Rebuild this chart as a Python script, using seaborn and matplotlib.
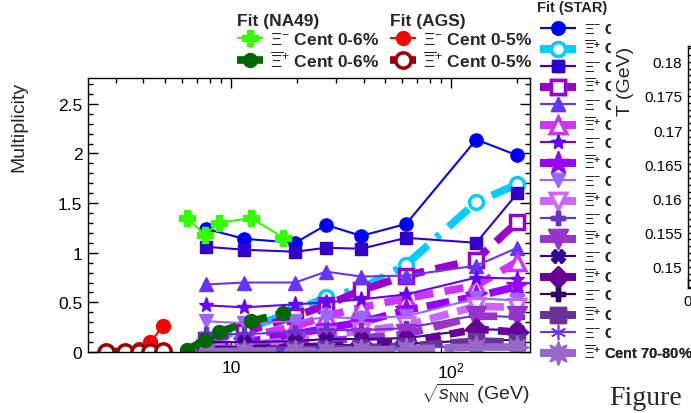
import matplotlib
matplotlib.use("Agg")
import matplotlib.pyplot as plt
import seaborn as sns
from matplotlib.lines import Line2D
from matplotlib.patches import Rectangle
from matplotlib.transforms import Bbox, TransformedBbox
from matplotlib.ticker import FixedLocator, FixedFormatter, MultipleLocator, NullFormatter, LogLocator

sns.set_theme(style="ticks")
plt.rcParams["font.family"] = ["Liberation Sans", "DejaVu Sans"]
plt.rcParams["mathtext.fontset"] = "custom"
plt.rcParams["mathtext.rm"] = "Liberation Sans"
plt.rcParams["mathtext.it"] = "Liberation Sans:italic"
plt.rcParams["mathtext.bf"] = "Liberation Sans:bold"

# ---- collision energies (GeV) ----
ags_energy = [2.7, 3.3, 3.8, 4.3, 4.9]
na49_energy = [6.3, 7.6, 8.8, 12.3, 17.3]
star_energy = [7.7, 11.5, 19.6, 27, 39, 62.4, 130, 200]

# ---- AGS (0-5%) ----
ags_xi = [0.003, 0.01, 0.03, 0.10, 0.26]
ags_antixi = [0.0, 0.001, 0.002, 0.004, 0.008]

# ---- NA49 (0-6%) ----
na49_xi = [1.35, 1.18, 1.30, 1.35, 1.15]
na49_antixi = [0.02, 0.12, 0.20, 0.31, 0.39]

# ---- STAR, one list per centrality class ----
star_centrality = ["0-5%", "5-10%", "10-20%", "20-30%", "30-40%",
                   "40-50%", "50-60%", "60-70%", "70-80%"]
xi_0_5 = [1.24, 1.14, 1.10, 1.28, 1.17, 1.29, 2.14, 1.98]
xi_5_10 = [1.06, 1.03, 1.01, 1.05, 1.04, 1.15, 1.10, 1.60]
xi_10_20 = [0.68, 0.70, 0.70, 0.81, 0.76, 0.77, 0.87, 1.05]
xi_20_30 = [0.47, 0.45, 0.48, 0.50, 0.53, 0.58, 0.75, 0.74]
xi_30_40 = [0.31, 0.29, 0.31, 0.35, 0.34, 0.36, 0.54, 0.52]
xi_40_50 = [0.18, 0.18, 0.20, 0.22, 0.22, 0.24, 0.37, 0.35]
xi_50_60 = [0.10, 0.10, 0.11, 0.13, 0.13, 0.14, 0.23, 0.22]
xi_60_70 = [0.05, 0.05, 0.06, 0.07, 0.07, 0.08, 0.12, 0.12]
xi_70_80 = [0.02, 0.02, 0.03, 0.03, 0.03, 0.04, 0.06, 0.06]

anti_0_5 = [0.13, 0.22, 0.42, 0.55, 0.64, 0.88, 1.51, 1.69]
anti_5_10 = [0.12, 0.20, 0.36, 0.47, 0.62, 0.77, 0.93, 1.31]
anti_10_20 = [0.08, 0.15, 0.26, 0.36, 0.45, 0.54, 0.67, 0.91]
anti_20_30 = [0.05, 0.10, 0.18, 0.24, 0.30, 0.42, 0.56, 0.66]
anti_30_40 = [0.04, 0.07, 0.12, 0.17, 0.21, 0.27, 0.46, 0.45]
anti_40_50 = [0.02, 0.05, 0.08, 0.11, 0.14, 0.18, 0.36, 0.36]
anti_50_60 = [0.01, 0.03, 0.05, 0.06, 0.08, 0.10, 0.23, 0.20]
anti_60_70 = [0.01, 0.01, 0.03, 0.03, 0.04, 0.06, 0.11, 0.10]
anti_70_80 = [0.00, 0.01, 0.01, 0.01, 0.02, 0.03, 0.05, 0.05]

star_xi = [xi_0_5, xi_5_10, xi_10_20, xi_20_30, xi_30_40,
           xi_40_50, xi_50_60, xi_60_70, xi_70_80]
star_anti = [anti_0_5, anti_5_10, anti_10_20, anti_20_30, anti_30_40,
             anti_40_50, anti_50_60, anti_60_70, anti_70_80]

# ---- styles: (color, marker, size, filled) ----
xi_style = [("#0000ff", "o", 9.5, True), ("#3300cc", "s", 9, True),
            ("#6633ff", "^", 10, True), ("#6600ff", "*", 11, True),
            ("#9966ff", "v", 10, True), ("#6633cc", "P", 10, True),
            ("#330099", "X", 10, True), ("#330066", "P", 10, True),
            ("#6633ff", (6, 2, 0), 11, True)]
anti_style = [("#00ccff", "o", 10, False), ("#9900cc", "s", 10, False),
              ("#cc33ff", "^", 11, False), ("#9900ff", "*", 17, True),
              ("#cc66ff", "v", 11, False), ("#9933cc", "v", 14, True),
              ("#660099", "D", 11, True), ("#663399", "s", 12, True),
              ("#9966cc", (8, 1, 0), 17, True)]
anti_dash = [(0, (3.5, 1.5, 0.6, 1.5)), (0, (3, 1.5)), (0, (2.5, 1.5)),
             (0, (3, 1.2)), (0, (2.5, 1.2)), (0, (3.5, 1.5)),
             (0, (2, 1.2)), (0, (3, 1.0)), (0, (4, 1.2))]

THIN, THICK = 1.5, 5.5

W, H = 691, 414
def fx(px):
    return px / W
def fy(py):
    return 1 - py / H

fig = plt.figure(figsize=(W / 100, H / 100), dpi=100)
ax = fig.add_axes([fx(88), fy(353), fx(530) - fx(88), fy(79) - fy(353)])
ax.set_facecolor("white")


def series(x, y, color, marker, ms, filled, lw, ls, mew):
    sns.lineplot(x=x, y=y, ax=ax, color=color, marker=marker, markersize=ms,
                 linewidth=lw, linestyle=ls, errorbar=None,
                 markerfacecolor=color if filled else "white",
                 markeredgecolor=color, markeredgewidth=mew,
                 dash_capstyle="butt", solid_capstyle="butt")
    return Line2D([], [], color=color, marker=marker, markersize=ms,
                  linewidth=lw, linestyle="-",
                  markerfacecolor=color if filled else "white",
                  markeredgecolor=color, markeredgewidth=mew,
                  solid_capstyle="butt")


star_handles, star_labels = [], []
for i, cent in enumerate(star_centrality):
    c, m, s, f = xi_style[i]
    h = series(star_energy, star_xi[i], c, m, s, f, THIN, "-", 1.0)
    star_handles.append(h)
    star_labels.append(r"$\Xi^{-}$ Cent " + cent)
    c, m, s, f = anti_style[i]
    h = series(star_energy, star_anti[i], c, m, s, f, THICK, anti_dash[i],
               2.5 if not f else 1.0)
    star_handles.append(h)
    star_labels.append(r"$\overline{\Xi}^{+}$ Cent " + cent)

h_na_xi = series(na49_energy, na49_xi, "#33ff00", "P", 11, True, THIN, "-", 1.0)
h_na_anti = series(na49_energy, na49_antixi, "#006600", "o", 10, True, THICK,
                   (0, (3, 1.2)), 1.0)
h_ags_xi = series(ags_energy, ags_xi, "#ff0000", "o", 10, True, THIN, "-", 1.0)
h_ags_anti = series(ags_energy, ags_antixi, "#990000", "o", 11, False, THICK,
                    "-", 2.5)

# ---- axes ----
ax.set_xscale("log")
ax.set_xlim(2.24, 228)
ax.set_ylim(0, 2.76)
ax.set_xlabel("")
ax.set_ylabel("")
ax.xaxis.set_major_locator(FixedLocator([10, 100]))
ax.xaxis.set_major_formatter(FixedFormatter(["10", r"$10^{2}$"]))
ax.xaxis.set_minor_locator(LogLocator(base=10, subs=range(2, 10)))
ax.xaxis.set_minor_formatter(NullFormatter())
ax.yaxis.set_major_locator(FixedLocator([0, 0.5, 1, 1.5, 2, 2.5]))
ax.yaxis.set_major_formatter(FixedFormatter(["0", "0.5", "1", "1.5", "2", "2.5"]))
ax.yaxis.set_minor_locator(MultipleLocator(0.1))
ax.tick_params(which="both", direction="in", top=True, right=True,
               colors="black", width=1.0, labelsize=12.5, pad=4)
ax.tick_params(which="major", length=7)
ax.tick_params(which="minor", length=3.6)
ax.tick_params(axis="x", which="major", pad=6)
for sp in ax.spines.values():
    sp.set_visible(True)
    sp.set_color("black")
    sp.set_linewidth(1.0)

fig.text(fx(19), fy(82), "Multiplicity", rotation=90, ha="center", va="top",
         fontsize=14)
fig.text(fx(530), fy(394), r"$\sqrt{s_{\mathrm{NN}}}$ (GeV)", ha="right",
         va="center", fontsize=14)

# ---- legends ----
def small_legend(handles, labels, title, left):
    leg = ax.legend(handles=handles, labels=labels, loc="upper left",
                    bbox_to_anchor=(fx(left), fy(14)),
                    bbox_transform=fig.transFigure, frameon=False, fontsize=12.5,
                    title=title, alignment="left",
                    title_fontproperties={"weight": "bold", "size": 12.5},
                    handlelength=1.5, handletextpad=0.4, labelspacing=0.15,
                    borderpad=0, borderaxespad=0)
    for t in leg.get_texts():
        t.set_fontweight("bold")
    ax.add_artist(leg)
    return leg

small_legend([h_na_xi, h_na_anti],
             [r"$\Xi^{-}$ Cent 0-6%", r"$\overline{\Xi}^{+}$ Cent 0-6%"],
             "Fit (NA49)", 237)
small_legend([h_ags_xi, h_ags_anti],
             [r"$\Xi^{-}$ Cent 0-5%", r"$\overline{\Xi}^{+}$ Cent 0-5%"],
             "Fit (AGS)", 390)

fig.text(fx(537), fy(8), "Fit (STAR)", fontsize=10.5, fontweight="bold",
         ha="left", va="center")
leg_star = ax.legend(handles=star_handles, labels=star_labels,
                     loc="upper left", bbox_to_anchor=(fx(540), fy(23)),
                     bbox_transform=fig.transFigure, frameon=False, fontsize=10.5,
                     handlelength=2.5, handletextpad=0.5, labelspacing=0.2,
                     borderpad=0, borderaxespad=0)
# the neighbouring panel hides the right part of all but the last label
label_clip = TransformedBbox(Bbox([[0, fy(342)], [fx(611), 1]]), fig.transFigure)
for k, t in enumerate(leg_star.get_texts()):
    t.set_fontweight("bold")
    if k < len(star_labels) - 1:
        t.set_clip_box(label_clip)
        t.set_clip_on(True)
ax.add_artist(leg_star)

# ---- neighbouring temperature panel ----
fig.add_artist(Rectangle((fx(611), fy(342)), 1 - fx(611), fy(0) - fy(342),
                         transform=fig.transFigure, facecolor="white",
                         edgecolor="none", zorder=1))
ax2 = fig.add_axes([fx(688), fy(289), 0.3, fy(47) - fy(289)])
ax2.set_zorder(2)
ax2.set_facecolor("white")
ax2.set_xlim(0, 1)
ax2.set_ylim(0.1469, 0.1823)
ax2.xaxis.set_major_locator(FixedLocator([0]))
ax2.xaxis.set_major_formatter(FixedFormatter(["0"]))
t_ticks = [0.15, 0.155, 0.16, 0.165, 0.17, 0.175, 0.18]
ax2.yaxis.set_major_locator(FixedLocator(t_ticks))
ax2.yaxis.set_major_formatter(FixedFormatter(["0.15", "0.155", "0.16", "0.165",
                                              "0.17", "0.175", "0.18"]))
ax2.yaxis.set_minor_locator(MultipleLocator(0.001))
ax2.tick_params(which="both", direction="in", colors="black", width=1.0,
                labelsize=11, pad=4)
ax2.tick_params(which="major", length=7)
ax2.tick_params(which="minor", length=3.6)
for sp in ax2.spines.values():
    sp.set_visible(True)
    sp.set_color("black")
    sp.set_linewidth(1.0)
fig.text(fx(625), fy(47), "T (GeV)", rotation=90, ha="center", va="top",
         fontsize=14, zorder=3)

fig.text(fx(609), fy(405), "Figure", family="Liberation Serif", fontsize=20,
         va="baseline", ha="left")

fig.savefig("out.png", dpi=100, facecolor="white")
